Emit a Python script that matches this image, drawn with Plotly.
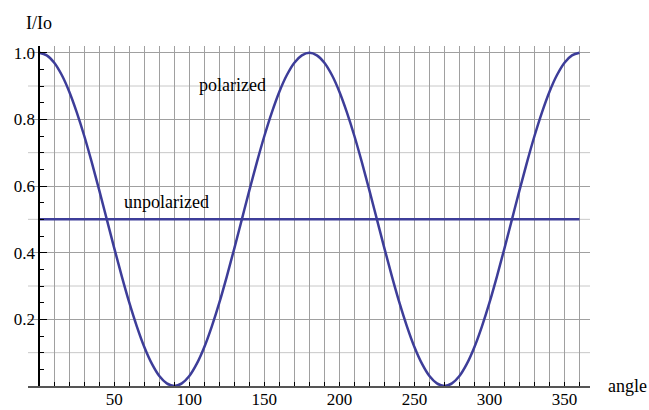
import plotly.graph_objects as go

# ---- data ----
angle_deg = list(range(0, 365, 5))
polarized = [
    1.000, 0.992, 0.970, 0.933, 0.883, 0.821, 0.750, 0.671, 0.587, 0.500,
    0.413, 0.329, 0.250, 0.179, 0.117, 0.067, 0.030, 0.008, 0.000, 0.008,
    0.030, 0.067, 0.117, 0.179, 0.250, 0.329, 0.413, 0.500, 0.587, 0.671,
    0.750, 0.821, 0.883, 0.933, 0.970, 0.992, 1.000, 0.992, 0.970, 0.933,
    0.883, 0.821, 0.750, 0.671, 0.587, 0.500, 0.413, 0.329, 0.250, 0.179,
    0.117, 0.067, 0.030, 0.008, 0.000, 0.008, 0.030, 0.067, 0.117, 0.179,
    0.250, 0.329, 0.413, 0.500, 0.587, 0.671, 0.750, 0.821, 0.883, 0.933,
    0.970, 0.992, 1.000,
]
unpol_x = [0, 360]
unpol_y = [0.5, 0.5]

x_ticks = list(range(10, 370, 10))
x_labels = [str(v) if v % 50 == 0 else "" for v in x_ticks]
y_ticks = [0.2, 0.4, 0.6, 0.8, 1.0]
y_labels = ["0.2", "0.4", "0.6", "0.8", "1.0"]
y_minor_ticks = [round(0.05 * i, 2) for i in range(1, 21)]
y_light_grid = [0.1, 0.3, 0.5, 0.7, 0.9]

x_range = [-7.5, 367]
y_range = [0, 1.02]

line_color = "#3d3d99"
font_family = "Liberation Serif, Times New Roman, serif"
fsize = 18

fig = go.Figure()
fig.add_trace(go.Scatter(x=unpol_x, y=unpol_y, mode="lines",
                         line=dict(color=line_color, width=2.5), hoverinfo="skip"))
fig.add_trace(go.Scatter(x=angle_deg, y=polarized, mode="lines",
                         line=dict(color=line_color, width=2.5, shape="spline", smoothing=1.0),
                         hoverinfo="skip"))

shapes = [dict(type="line", xref="paper", x0=0, x1=1, yref="y", y0=v, y1=v,
               line=dict(color="#c8c8c8", width=1), layer="below") for v in y_light_grid]

annotations = [
    dict(text="I/Io", xref="x", x=0, yref="paper", y=1, yshift=23,
         showarrow=False, xanchor="center", yanchor="middle"),
    dict(text="angle", xref="paper", x=1, xshift=16, yref="y", y=0,
         showarrow=False, xanchor="left", yanchor="middle"),
    dict(text="polarized", xref="x", x=129, yref="y", y=0.902,
         showarrow=False, xanchor="center", yanchor="middle"),
    dict(text="unpolarized", xref="x", x=84.7, yref="y", y=0.552,
         showarrow=False, xanchor="center", yanchor="middle"),
]

tickfont = dict(family=font_family, size=17, color="black")

fig.update_layout(
    width=649, height=410,
    margin=dict(l=28, r=59, t=46, b=24, autoexpand=False),
    plot_bgcolor="white", paper_bgcolor="white",
    showlegend=False,
    font=dict(family=font_family, size=fsize, color="black"),
    shapes=shapes,
    annotations=annotations,
    xaxis=dict(range=x_range, tickvals=x_ticks, ticktext=x_labels, tickfont=tickfont,
               ticklabelstandoff=-3,
               showgrid=True, gridcolor="#a0a0a0", gridwidth=1,
               ticks="inside", ticklen=4, tickcolor="black", tickwidth=1,
               showline=True, linecolor="#555555", linewidth=1.5,
               zeroline=False, fixedrange=True, automargin=False),
    yaxis=dict(range=y_range, anchor="free", position=(0 - x_range[0]) / (x_range[1] - x_range[0]),
               tickvals=y_ticks, ticktext=y_labels, tickfont=tickfont,
               showgrid=True, gridcolor="#a0a0a0", gridwidth=1,
               ticks="inside", ticklen=7, tickcolor="black", tickwidth=1,
               showline=True, linecolor="black", linewidth=1.5,
               zeroline=False, fixedrange=True, automargin=False,
               minor=dict(tickvals=y_minor_ticks, ticks="inside", ticklen=4,
                          tickcolor="black", showgrid=False)),
)

fig.write_html(
    "out.html",
    config={"displayModeBar": False},
    post_script="document.body.style.margin='0';document.body.style.overflow='hidden';",
)
